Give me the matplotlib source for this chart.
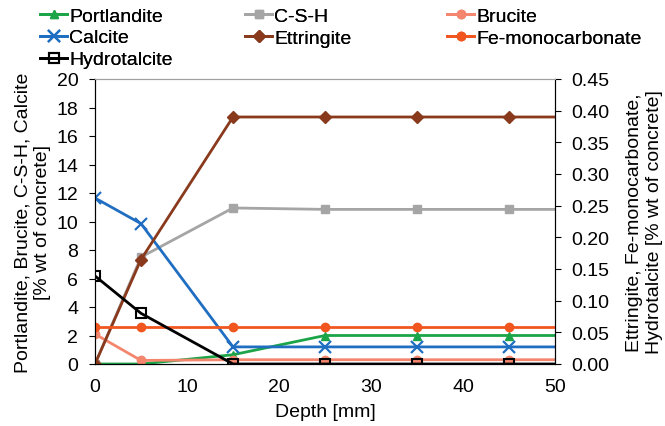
import matplotlib
matplotlib.use("Agg")
import matplotlib.pyplot as plt

plt.rcParams['font.family'] = ['Liberation Sans', 'DejaVu Sans']

depth = [0, 5, 15, 25, 35, 45, 55]

# left axis (% wt of concrete)
portlandite = [0.0, 0.0, 0.65, 2.0, 2.0, 2.0, 2.0]
csh = [0.0, 7.5, 10.95, 10.85, 10.85, 10.85, 10.85]
brucite = [2.1, 0.25, 0.3, 0.3, 0.3, 0.3, 0.3]
calcite = [11.65, 9.85, 1.2, 1.2, 1.2, 1.2, 1.2]

# right axis (% wt of concrete)
ettringite = [0.0, 0.165, 0.39, 0.39, 0.39, 0.39, 0.39]
fe_mono = [0.059, 0.059, 0.059, 0.059, 0.059, 0.059, 0.059]
hydrotalcite = [0.139, 0.080, 0.0, 0.0, 0.0, 0.0, 0.0]

W, H = 665, 427
fig = plt.figure(figsize=(W / 100, H / 100), dpi=100)
ax = fig.add_axes([95 / W, 1 - 365 / H, 460 / W, 285 / H])
ax2 = ax.twinx()

lw = 2
ms = 6
l_port, = ax.plot(depth, portlandite, color='#1BA548', marker='^', lw=lw, ms=ms, label='Portlandite')
l_csh, = ax.plot(depth, csh, color='#A5A5A5', marker='s', lw=lw, ms=ms, label='C-S-H')
l_bru, = ax.plot(depth, brucite, color='#F4866E', marker='o', lw=lw, ms=ms, label='Brucite')
l_cal, = ax.plot(depth, calcite, color='#1F6EC1', marker='x', mew=1.6, lw=lw, ms=8, label='Calcite')

l_ett, = ax2.plot(depth, ettringite, color='#8A3A1C', marker='D', lw=lw, ms=6, label='Ettringite')
l_fe, = ax2.plot(depth, fe_mono, color='#F2561F', marker='o', lw=lw, ms=ms, label='Fe-monocarbonate')
l_hyd, = ax2.plot(depth, hydrotalcite, color='black', marker='s', mfc='none', mew=1.5,
                  lw=lw, ms=7, label='Hydrotalcite')

ax.set_xlim(0, 50)
ax.set_ylim(0, 20)
ax2.set_ylim(0, 0.45)
ax.set_xticks(range(0, 51, 10))
ax.set_yticks(range(0, 21, 2))
ax2.set_yticks([i * 0.05 for i in range(10)])
ax2.set_yticklabels([f"{i * 0.05:.2f}" for i in range(10)])

for a in (ax, ax2):
    a.tick_params(labelsize=14, direction='out', length=4, pad=8)
    a.spines['top'].set_color('#A0A0A0')
ax.tick_params(axis='x', length=0, pad=10)

ax.set_xlabel('Depth [mm]', fontsize=14, labelpad=6)
ax.set_ylabel('Portlandite, Brucite, C-S-H, Calcite\n[% wt of concrete]', fontsize=14, labelpad=4)
ax2.set_ylabel('Ettringite, Fe-monocarbonate,\nHydrotalcite [% wt of concrete]',
               fontsize=14, rotation=90, labelpad=12)

# legend in three columns, evenly spaced like the original
columns = [[l_port, l_cal, l_hyd], [l_csh, l_ett], [l_bru, l_fe]]
col_x = [40, 245, 447]
for hs, x0 in zip(columns, col_x):
    leg = fig.legend(handles=hs, labels=[h.get_label() for h in hs],
                     loc='upper left', bbox_to_anchor=(x0 / W, 1 - 8 / H), frameon=False,
                     fontsize=14, handlelength=1.4, handletextpad=0.1,
                     labelspacing=0.22, borderpad=0, borderaxespad=0)
    fig.add_artist(leg)

fig.savefig('out.png', dpi=100)
